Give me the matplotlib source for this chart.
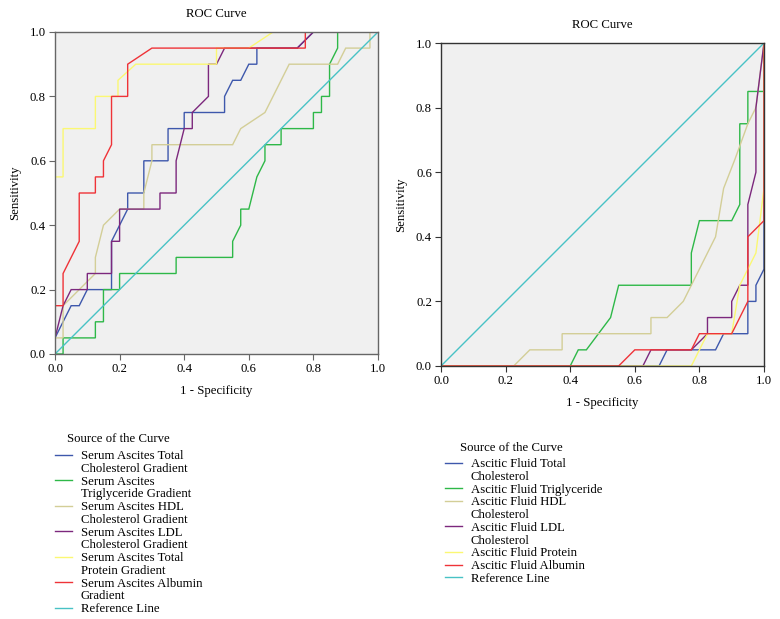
import matplotlib
matplotlib.use("Agg")
import matplotlib.pyplot as plt
from matplotlib.lines import Line2D

plt.rcParams['font.family'] = ['Liberation Serif', 'DejaVu Serif']

# ----------------------------
# Data (1 - specificity, sensitivity)
# ----------------------------

COLORS = ['#3E58AC', '#2EB848', '#D3CE97', '#7C287D', '#FBF873', '#EF3338', '#48C2C5']

left_names = [
    "Serum Ascites Total\nCholesterol Gradient",
    "Serum Ascites\nTriglyceride Gradient",
    "Serum Ascites HDL\nCholesterol Gradient",
    "Serum Ascites LDL\nCholesterol Gradient",
    "Serum Ascites Total\nProtein Gradient",
    "Serum Ascites Albumin\nGradient",
    "Reference Line",
]

left_x = [
    [0, 0, 0.05, 0.075, 0.1, 0.175, 0.175, 0.2, 0.225, 0.225, 0.275, 0.275, 0.35, 0.35, 0.4, 0.4,
     0.525, 0.525, 0.55, 0.575, 0.6, 0.625, 0.625, 0.75, 0.8, 1],
    [0, 0.025, 0.025, 0.125, 0.125, 0.15, 0.15, 0.2, 0.2, 0.375, 0.375, 0.55, 0.55, 0.575, 0.575,
     0.6, 0.625, 0.65, 0.65, 0.7, 0.7, 0.8, 0.8, 0.825, 0.825, 0.85, 0.85, 0.875, 0.875, 1],
    [0, 0, 0.025, 0.025, 0.075, 0.125, 0.125, 0.15, 0.2, 0.275, 0.275, 0.3, 0.3, 0.55, 0.575,
     0.65, 0.725, 0.875, 0.9, 0.975, 0.975, 1],
    [0, 0, 0.025, 0.05, 0.1, 0.1, 0.175, 0.175, 0.2, 0.2, 0.325, 0.325, 0.375, 0.375, 0.4, 0.425,
     0.425, 0.475, 0.475, 0.5, 0.525, 0.75, 0.8, 1],
    [0, 0, 0.025, 0.025, 0.125, 0.125, 0.195, 0.195, 0.25, 0.5, 0.5, 0.6, 0.675, 1],
    [0, 0, 0.025, 0.025, 0.075, 0.075, 0.125, 0.125, 0.15, 0.15, 0.175, 0.175, 0.225, 0.225, 0.3,
     0.775, 0.775, 1],
    [0, 1],
]
left_y = [
    [0, 0.05, 0.15, 0.15, 0.2, 0.2, 0.35, 0.4, 0.45, 0.5, 0.5, 0.6, 0.6, 0.7, 0.7, 0.75,
     0.75, 0.8, 0.85, 0.85, 0.9, 0.9, 0.95, 0.95, 1, 1],
    [0, 0, 0.05, 0.05, 0.1, 0.1, 0.2, 0.2, 0.25, 0.25, 0.3, 0.3, 0.35, 0.4, 0.45,
     0.45, 0.55, 0.6, 0.65, 0.65, 0.7, 0.7, 0.75, 0.75, 0.8, 0.8, 0.9, 0.95, 1, 1],
    [0, 0.05, 0.05, 0.15, 0.2, 0.25, 0.3, 0.4, 0.45, 0.45, 0.5, 0.6, 0.65, 0.65, 0.7,
     0.75, 0.9, 0.9, 0.95, 0.95, 1, 1],
    [0, 0.05, 0.15, 0.2, 0.2, 0.25, 0.25, 0.35, 0.35, 0.45, 0.45, 0.5, 0.5, 0.6, 0.7, 0.7,
     0.75, 0.8, 0.9, 0.9, 0.95, 0.95, 1, 1],
    [0, 0.55, 0.55, 0.7, 0.7, 0.8, 0.8, 0.85, 0.9, 0.9, 0.95, 0.95, 1, 1],
    [0, 0.15, 0.15, 0.25, 0.35, 0.5, 0.5, 0.55, 0.55, 0.6, 0.65, 0.8, 0.8, 0.9, 0.95,
     0.95, 1, 1],
    [0, 1],
]

right_names = [
    "Ascitic Fluid Total\nCholesterol",
    "Ascitic Fluid Triglyceride",
    "Ascitic Fluid HDL\nCholesterol",
    "Ascitic Fluid LDL\nCholesterol",
    "Ascitic Fluid Protein",
    "Ascitic Fluid Albumin",
    "Reference Line",
]

right_x = [
    [0, 0.675, 0.7, 0.85, 0.875, 0.95, 0.95, 0.975, 0.975, 1, 1],
    [0, 0.4, 0.425, 0.45, 0.525, 0.55, 0.775, 0.775, 0.8, 0.9, 0.925, 0.925, 0.95, 0.95, 1, 1],
    [0, 0.225, 0.275, 0.375, 0.375, 0.65, 0.65, 0.7, 0.75, 0.775, 0.85, 0.875, 0.91, 0.95, 0.975, 1],
    [0, 0.625, 0.65, 0.775, 0.825, 0.825, 0.9, 0.9, 0.925, 0.95, 0.95, 0.975, 0.975, 1],
    [0, 0.775, 0.8, 0.825, 0.9, 0.925, 0.975, 1, 1],
    [0, 0.55, 0.6, 0.775, 0.8, 0.9, 0.95, 0.95, 1, 1],
    [0, 1],
]
right_y = [
    [0, 0, 0.05, 0.05, 0.1, 0.1, 0.2, 0.2, 0.25, 0.3, 1],
    [0, 0, 0.05, 0.05, 0.15, 0.25, 0.25, 0.35, 0.45, 0.45, 0.5, 0.75, 0.75, 0.85, 0.85, 1],
    [0, 0, 0.05, 0.05, 0.1, 0.1, 0.15, 0.15, 0.2, 0.25, 0.4, 0.55, 0.64, 0.75, 0.8, 1],
    [0, 0, 0.05, 0.05, 0.1, 0.15, 0.15, 0.2, 0.25, 0.25, 0.5, 0.6, 0.8, 1],
    [0, 0, 0.05, 0.1, 0.1, 0.25, 0.35, 0.55, 1],
    [0, 0, 0.05, 0.05, 0.1, 0.1, 0.2, 0.4, 0.45, 1],
    [0, 1],
]

TICKS = [0.0, 0.2, 0.4, 0.6, 0.8, 1.0]
FS = 9.2

fig = plt.figure(figsize=(7.8, 6.19), dpi=100)
ax_l = fig.add_axes([55 / 780, 1 - 354 / 619, 323 / 780, 322 / 619])
ax_r = fig.add_axes([441 / 780, 1 - 366 / 619, 323 / 780, 323 / 619])


def draw_panel(ax, xs, ys, spine_color):
    ax.set_facecolor('#F0F0F0')
    for x, y, c in zip(xs, ys, COLORS):
        ax.plot(x, y, color=c, lw=1.0, solid_joinstyle='miter')
    ax.set_xlim(0, 1)
    ax.set_ylim(0, 1)
    ax.set_xticks(TICKS)
    ax.set_yticks(TICKS)
    ax.set_xticklabels([f"{t:.1f}" for t in TICKS])
    ax.set_yticklabels([f"{t:.1f}" for t in TICKS])
    ax.tick_params(direction='out', length=4, width=0.8, pad=2.5, labelsize=FS,
                   color=spine_color, top=False, right=False)
    for s in ax.spines.values():
        s.set_color(spine_color)
        s.set_linewidth(1.0)
    ax.set_title("ROC Curve", fontsize=FS, pad=10.5)
    ax.set_xlabel("1 - Specificity", fontsize=FS, labelpad=7)
    ax.set_ylabel("Sensitivity", fontsize=FS, labelpad=6)


draw_panel(ax_l, left_x, left_y, '#666666')
draw_panel(ax_r, right_x, right_y, '#333333')


def draw_legend(names, title, title_xy, anchor):
    handles, labels = [], []
    for name, c in zip(names, COLORS):
        parts = name.split("\n")
        handles.append(Line2D([], [], color=c, lw=1.0))
        labels.append(parts[0])
        for extra in parts[1:]:
            handles.append(Line2D([], [], color='none', lw=0))
            labels.append(extra)
    fig.text(title_xy[0] / 780, 1 - title_xy[1] / 619, title, fontsize=FS,
             ha='left', va='center')
    fig.legend(handles, labels, loc='upper left',
               bbox_to_anchor=(anchor[0] / 780, 1 - anchor[1] / 619),
               frameon=False, fontsize=FS, labelspacing=0.06, borderpad=0,
               borderaxespad=0, handlelength=1.33, handletextpad=0.7)


draw_legend(left_names, "Source of the Curve", (67, 439), (55, 450))
draw_legend(right_names, "Source of the Curve", (460, 448), (445, 458))

fig.savefig("out.png", dpi=100)
